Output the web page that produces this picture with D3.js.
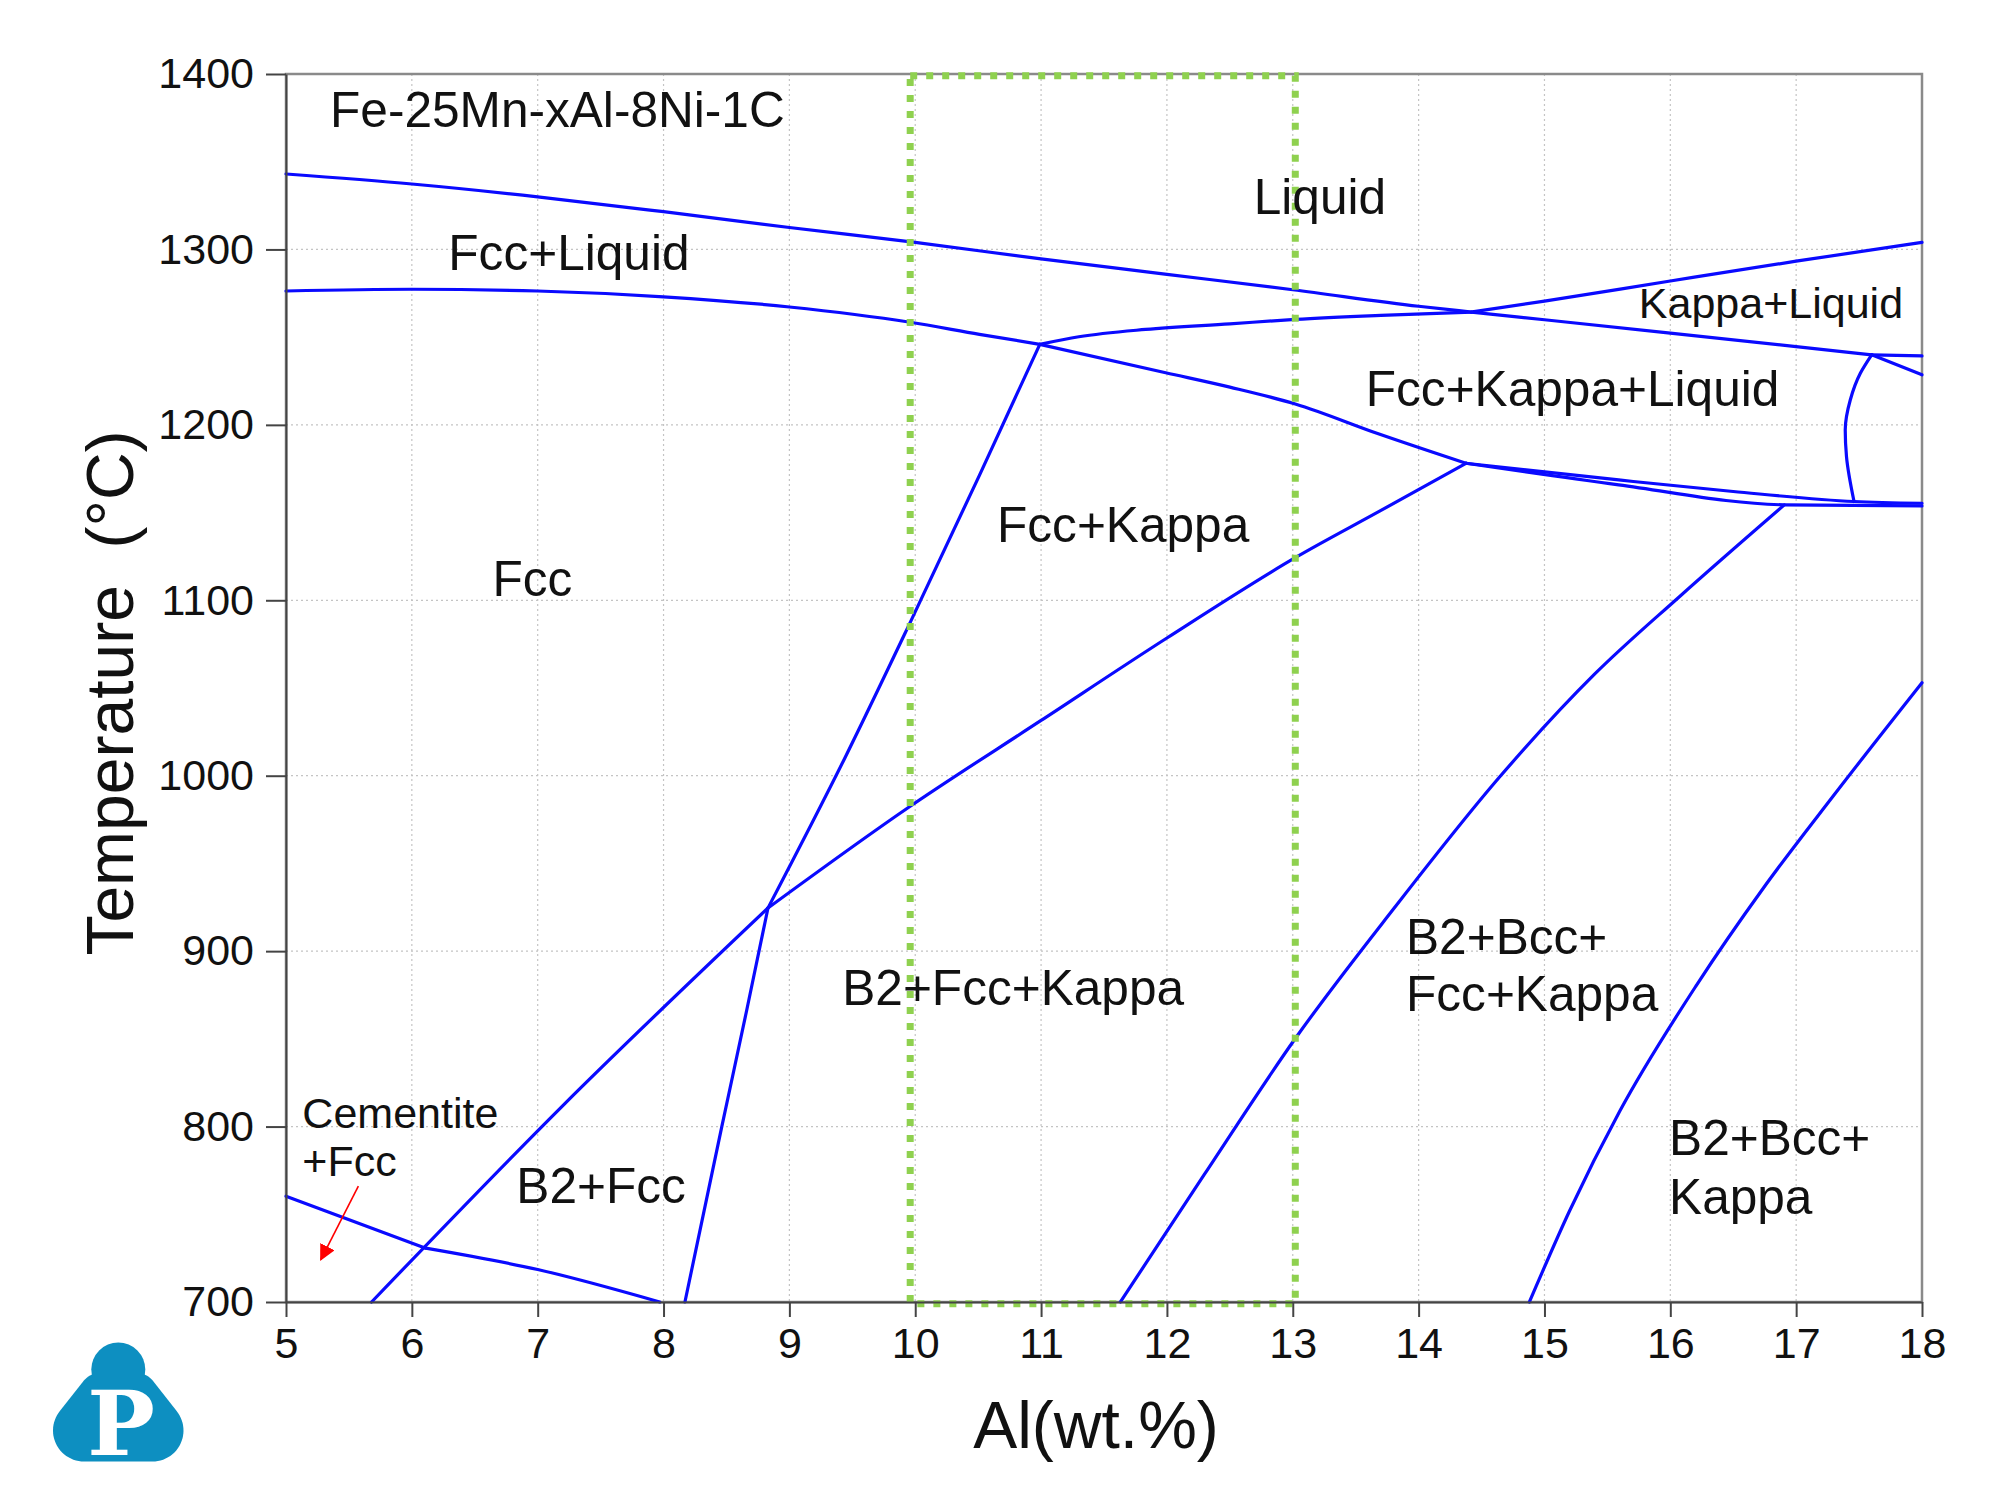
<!DOCTYPE html>
<html lang="en">
<head>
<meta charset="UTF-8">
<title>Fe-25Mn-xAl-8Ni-1C</title>
<script src="https://cdn.jsdelivr.net/npm/d3@7/dist/d3.min.js"></script>
<style>
  body { margin: 0; background: #fff; }
  svg text { font-family: "Liberation Sans", Arial, sans-serif; fill: #111; }
  .tick text { font-size: 43px; }
  .big { font-size: 49.6px; }
  .small { font-size: 43px; }
  .title { font-size: 66px; }
</style>
</head>
<body>
<svg></svg>
<script>
// tick values
var xTicks = [5, 6, 7, 8, 9, 10, 11, 12, 13, 14, 15, 16, 17, 18];
var yTicks = [700, 800, 900, 1000, 1100, 1200, 1300, 1400];

// phase boundaries, [Al wt.%, T degC]
var liquidus = [[5,1343],[6,1337.3],[7,1330],[8,1321.5],[9,1312.5],[10,1304],[11,1294.6],[12,1285.8],[13,1277],[14,1267.6],[14.42,1264.3],[15,1259.9],[16,1252.3],[17,1244.6],[17.6,1239.9]];
var liquidusTail = [[17.6,1239.9],[18,1239.3]];
var fccSolidus = [[5,1276.3],[6,1277.3],[7,1276.3],[8,1273],[9,1267.2],[9.96,1258.5],[10.51,1251.6],[10.99,1245.9]];
var kappaLiquid = [[10.99,1245.9],[11.3,1250.2],[11.83,1254.4],[12.5,1257.6],[13.02,1260.1],[13.7,1262.4],[14.42,1264.3]];
var kappaLiquidUp = [[14.42,1264.3],[15,1270.5],[16,1282],[17,1293.3],[18,1304]];
var fccKappaTop = [[10.99,1245.9],[11.99,1229.7],[12.5,1221.5],[13.02,1211.9],[13.68,1194.9],[14.376,1178.1]];
var steepLow = [[8.17,700],[8.46,799],[8.66,866],[8.83,924.6]];
var steepHigh = [[8.83,924.6],[9.44,1010],[9.964,1088],[10.51,1171.2],[10.99,1245.9]];
var b2Low = [[5.68,700],[7.2,812],[8.83,924.6]];
var b2High = [[8.83,924.6],[9.94,981.6],[11,1031.5],[12,1078.5],[13.03,1124.7],[13.69,1150.8],[14.376,1178.1]];
var cementiteLeft = [[5,760.3],[6.11,730.7]];
var cementiteRight = [[6.11,730.7],[7.0,718.5],[7.97,700]];
var bccA = [[11.63,700],[12.3,773],[13.02,850.2],[13.8,924],[14.645,999.4],[15.4,1058],[16.07,1101.9],[16.906,1154.4]];
var bccB = [[14.88,700],[15.2,752],[15.6,809],[16.21,880.8],[16.74,936],[17.29,988],[18,1053]];
var bandUpper = [[14.376,1178.1],[15.59,1168.6],[16.5,1162],[17.46,1156.3],[18,1155.3]];
var bandLower = [[14.376,1178.1],[15.59,1165.8],[16.906,1154.4],[18,1153.8]];
var loopCurve = [[17.6,1239.9],[17.51,1229.4],[17.43,1214.2],[17.39,1197.1],[17.4,1181.9],[17.46,1156.3]];
var loopBranch = [[17.6,1239.9],[18,1228.5]];

var boundaries = [liquidus, liquidusTail, fccSolidus, kappaLiquid, kappaLiquidUp, fccKappaTop,
  steepLow, steepHigh, b2Low, b2High, cementiteLeft, cementiteRight, bccA, bccB,
  bandUpper, bandLower, loopBranch];

// studied Al window (green box)
var alWindow = [9.96, 13.02];
var tWindow = [699, 1399];

// region labels: text, Al, T (baseline)
var bigLabels = [
  ["Fe-25Mn-xAl-8Ni-1C", 5.35, 1369.6],
  ["Fcc+Liquid", 6.29, 1288.1],
  ["Liquid", 12.69, 1320],
  ["Fcc+Kappa+Liquid", 13.58, 1210.6],
  ["Fcc", 6.64, 1102.3],
  ["Fcc+Kappa", 10.65, 1133.1],
  ["B2+Fcc+Kappa", 9.42, 869.3],
  ["B2+Bcc+", 13.9, 898.4],
  ["Fcc+Kappa", 13.9, 865.9],
  ["B2+Bcc+", 15.99, 783.8],
  ["Kappa", 15.99, 750.2],
  ["B2+Fcc", 6.83, 756.5]
];
var smallLabels = [
  ["Kappa+Liquid", 15.75, 1260.8],
  ["Cementite", 5.13, 799.2],
  ["+Fcc", 5.13, 771.9]
];
var arrowPts = [[5.575,766.1],[5.277,724.2]];

var W = 1994, H = 1498;
var margin = { top: 74, left: 286, right: 72, bottom: 196 };
var width = W - margin.left - margin.right;
var height = H - margin.top - margin.bottom;

var svg = d3.select('svg').attr('width', W).attr('height', H);

svg.append('defs').append('marker')
  .attr('id', 'arrow')
  .attr('viewBox', '0 0 10 10')
  .attr('refX', 9).attr('refY', 5)
  .attr('markerWidth', 16).attr('markerHeight', 16)
  .attr('markerUnits', 'userSpaceOnUse')
  .attr('orient', 'auto')
  .append('path')
  .attr('d', 'M0,0 L10,5 L0,10 z')
  .attr('fill', '#ff0000');

var g = svg.append('g').attr('transform', 'translate(' + margin.left + ',' + margin.top + ')');

var x = d3.scaleLinear().domain([5, 18]).range([0, width]);
var y = d3.scaleLinear().domain([700, 1400]).range([height, 0]);

// grid
g.append('g').selectAll('line').data(xTicks.slice(1, -1)).enter().append('line')
  .attr('x1', d => x(d)).attr('x2', d => x(d))
  .attr('y1', 0).attr('y2', height)
  .attr('stroke', '#c4c4c4').attr('stroke-width', 1.2).attr('stroke-dasharray', '2,3');
g.append('g').selectAll('line').data(yTicks.slice(1, -1)).enter().append('line')
  .attr('y1', d => y(d)).attr('y2', d => y(d))
  .attr('x1', 0).attr('x2', width)
  .attr('stroke', '#c4c4c4').attr('stroke-width', 1.2).attr('stroke-dasharray', '2,3');

// frame
g.append('rect').attr('width', width).attr('height', height)
  .attr('fill', 'none').attr('stroke', '#8a8a8a').attr('stroke-width', 2.5);

// boundaries
var line = d3.line()
  .x(d => x(d[0]))
  .y(d => y(d[1]))
  .curve(d3.curveMonotoneX);
var lineT = d3.line()
  .x(d => x(d[0]))
  .y(d => y(d[1]))
  .curve(d3.curveMonotoneY);

var bounds = g.append('g')
  .attr('fill', 'none')
  .attr('stroke', '#0a0aff')
  .attr('stroke-width', 3.2)
  .attr('stroke-linejoin', 'round')
  .attr('stroke-linecap', 'round');
bounds.selectAll('path.b').data(boundaries).enter().append('path')
  .attr('class', 'b')
  .attr('d', line);
bounds.append('path').datum(loopCurve).attr('d', lineT);

// green box
g.append('rect')
  .attr('x', x(alWindow[0])).attr('y', y(tWindow[1]))
  .attr('width', x(alWindow[1]) - x(alWindow[0]))
  .attr('height', y(tWindow[0]) - y(tWindow[1]))
  .attr('fill', 'none')
  .attr('stroke', '#8fd14f')
  .attr('stroke-width', 7)
  .attr('stroke-dasharray', '7,9');

// axes
var xAxis = g.append('g')
  .attr('transform', 'translate(0,' + height + ')')
  .call(d3.axisBottom(x).tickValues(xTicks).tickFormat(d3.format('d'))
    .tickSizeInner(15).tickSizeOuter(0).tickPadding(10));
var yAxis = g.append('g')
  .call(d3.axisLeft(y).tickValues(yTicks).tickFormat(d3.format('d'))
    .tickSizeInner(20).tickSizeOuter(0).tickPadding(12));
[xAxis, yAxis].forEach(function (a) {
  a.select('.domain').attr('stroke', '#444').attr('stroke-width', 2);
  a.selectAll('.tick line').attr('stroke', '#444').attr('stroke-width', 2);
  a.selectAll('.tick text').attr('fill', '#111').style('font-family', '"Liberation Sans", Arial, sans-serif');
});

// labels
g.append('g').selectAll('text').data(bigLabels).enter().append('text')
  .attr('class', 'big')
  .attr('x', d => x(d[1])).attr('y', d => y(d[2]))
  .text(d => d[0]);
g.append('g').selectAll('text').data(smallLabels).enter().append('text')
  .attr('class', 'small')
  .attr('x', d => x(d[1])).attr('y', d => y(d[2]))
  .text(d => d[0]);

g.append('line')
  .attr('x1', x(arrowPts[0][0])).attr('y1', y(arrowPts[0][1]))
  .attr('x2', x(arrowPts[1][0])).attr('y2', y(arrowPts[1][1]))
  .attr('stroke', '#ff0000').attr('stroke-width', 1.6)
  .attr('marker-end', 'url(#arrow)');

// axis titles
svg.append('text').attr('class', 'title')
  .attr('x', margin.left + width / 2 - 8).attr('y', 1448)
  .attr('text-anchor', 'middle')
  .text('Al(wt.%)');
svg.append('text').attr('class', 'title')
  .attr('transform', 'translate(133,' + (margin.top + height / 2 + 5) + ') rotate(-90)')
  .attr('text-anchor', 'middle')
  .style('white-space', 'pre')
  .text('Temperature  (\u00B0C)');

// logo: top bump over a rounded triangle
var logo = svg.append('g').attr('fill', '#0d8fc1');
function ring(c) {
  var p = [];
  for (var i = 0; i < 72; i++) {
    var a = i / 72 * 2 * Math.PI;
    p.push([c[0] + c[2] * Math.cos(a), c[1] + c[2] * Math.sin(a)]);
  }
  return p;
}
var body = [[100, 1394, 21], [136.6, 1394, 21], [84, 1430.5, 31], [152.5, 1430.5, 31]];
var pts = [];
body.forEach(function (c) { pts = pts.concat(ring(c)); });
logo.append('path').attr('d', 'M' + d3.polygonHull(pts).join('L') + 'Z');
logo.append('circle').attr('cx', 118.3).attr('cy', 1369.5).attr('r', 27);
logo.append('text')
  .attr('x', 121).attr('y', 1455)
  .attr('text-anchor', 'middle')
  .style('font-family', '"DejaVu Serif", serif')
  .style('font-weight', 'bold')
  .style('font-size', '90px')
  .style('fill', '#fff')
  .text('P');
</script>
</body>
</html>
